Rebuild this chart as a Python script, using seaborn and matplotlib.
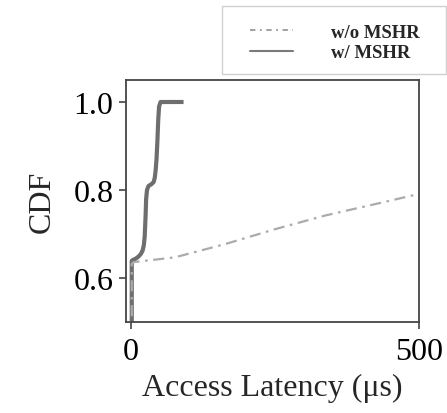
import matplotlib
matplotlib.use("Agg")
import matplotlib.pyplot as plt
from matplotlib.patches import Rectangle
from matplotlib.lines import Line2D
import seaborn as sns
import pandas as pd

# ---- data ----
wo_x = [1, 1, 4, 76, 163, 250, 337, 424, 500]
wo_y = [0.40, 0.632, 0.636, 0.647, 0.677, 0.711, 0.742, 0.768, 0.791]

w_x = [1, 1, 3, 8, 13, 17, 20, 22, 23.5, 25, 26, 27.5, 30, 35, 39, 41, 42.5,
       44, 45.5, 47, 48.5, 51, 91]
w_y = [0.40, 0.639, 0.641, 0.644, 0.649, 0.655, 0.663, 0.675, 0.695, 0.74, 0.78,
       0.80, 0.809, 0.813, 0.818, 0.828, 0.845, 0.87, 0.91, 0.96, 0.99, 1.0, 1.0]

labels = ["w/o MSHR", "w/ MSHR"]
x_ticks = [0, 500]
y_ticks = [0.6, 0.8, 1.0]

sns.set_style("ticks")
plt.rcParams["font.family"] = ["Liberation Serif", "DejaVu Serif"]

fig = plt.figure(figsize=(4.47, 4.14), dpi=100)
ax = fig.add_axes([126 / 447, 1 - 323 / 414, 293 / 447, 242 / 414])

df_wo = pd.DataFrame({"x": wo_x, "y": wo_y})
df_w = pd.DataFrame({"x": w_x, "y": w_y})

sns.lineplot(data=df_w, x="x", y="y", ax=ax, estimator=None, sort=False,
             linewidth=3.0, legend=False, solid_capstyle="butt",
             solid_joinstyle="round", color="#6e6e6e", linestyle="-", zorder=2)
sns.lineplot(data=df_wo, x="x", y="y", ax=ax, estimator=None, sort=False,
             linewidth=1.6, legend=False, color="#ababab",
             linestyle=(0, (5, 2.5, 1.2, 2.5)), zorder=3)

ax.set_xlim(-9, 500)
ax.set_ylim(0.5, 1.05)
ax.set_xticks(x_ticks)
ax.set_xticklabels([str(t) for t in x_ticks])
ax.set_yticks(y_ticks)
ax.set_yticklabels([f"{t:.1f}" for t in y_ticks])
ax.tick_params(axis="both", labelsize=23, length=5, width=1.2, color="#444444",
               labelcolor="black")
ax.tick_params(axis="x", pad=6)
ax.tick_params(axis="y", pad=4)
ax.set_xlabel("Access Latency (μs)", fontsize=23, labelpad=5)
ax.set_ylabel("CDF", fontsize=23, labelpad=12)
for s in ax.spines.values():
    s.set_visible(True)
    s.set_color("#444444")
    s.set_linewidth(1.3)
    s.set_zorder(4)

# legend outside the axes, top right
handles = [Line2D([], [], linewidth=1.3, color="#9a9a9a",
                  linestyle=(0, (3, 2.5, 1, 2.5))),
           Line2D([], [], linewidth=1.5, color="#7a7a7a", linestyle="-")]
fig.legend(handles, labels, loc="center", bbox_to_anchor=(0.749, 0.895),
           frameon=False, prop={"weight": "bold", "size": 13.5},
           handlelength=2.3, handletextpad=2.0, labelspacing=0.2)
fig.patches.append(Rectangle((222 / 447, 1 - 75 / 414), 224 / 447, 68 / 414,
                             transform=fig.transFigure, fill=False,
                             edgecolor="#d0d0d0", linewidth=1.0))

fig.savefig("out.png", dpi=100)
